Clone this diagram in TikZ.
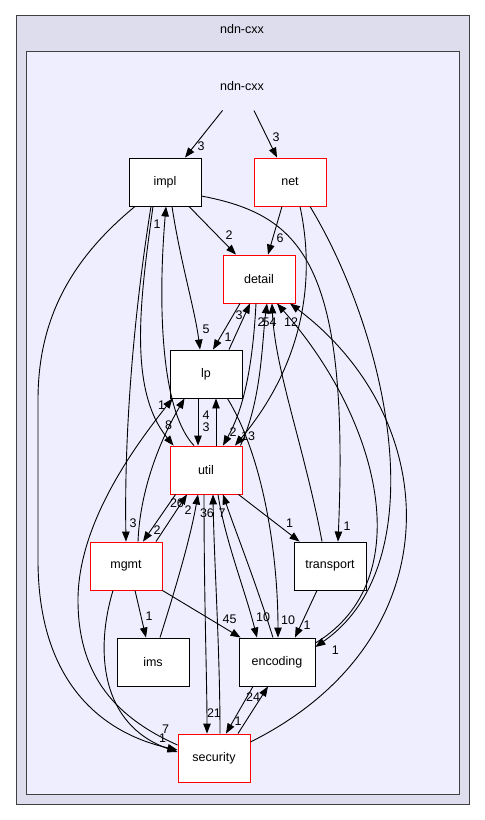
\documentclass[tikz,border=0pt]{standalone}
\usepackage{fontspec}
\setmainfont{Liberation Sans}
\usetikzlibrary{arrows.meta}

\definecolor{clusterOuter}{HTML}{DDDDEE}
\definecolor{clusterInner}{HTML}{EEEEFF}
\definecolor{clusterLine}{HTML}{404040}
\newcommand{\dirFont}{\fontsize{12.5}{14}\selectfont}

\tikzset{every picture/.style={line width=0.9pt},
        dirBox/.style={rectangle, draw=#1, fill=white, minimum width=72pt, minimum height=48pt, inner sep=0pt, font=\dirFont},
        dep/.style={-{Triangle[length=10pt,width=7.5pt]}},
        depLabel/.style 2 args={at end, shift={(#1,#2)}, inner sep=0pt, font=\dirFont}}

\begin{document}
\begin{tikzpicture}[x=1pt, y=-1pt]
\useasboundingbox (0,0) rectangle (485,820);

% draw clusters
\draw[clusterLine, fill=clusterOuter] (16,15) rectangle (469,804);
\node[font=\dirFont] (outerTitle) at (242,29) {ndn-cxx};
\draw[clusterLine, fill=clusterInner] (26,51) rectangle (459,794);
\node[minimum width=72pt, minimum height=48pt, font=\dirFont] (topDir) at (242,86) {ndn-cxx};

% draw directories
\foreach \dirName/\px/\py/\frameCol in {impl/165/182/black, net/290/182/red, detail/259/279/red,
    lp/206/374/black, util/206/470/red, mgmt/126/566/red, transport/330/566/black,
    ims/153/662/black, security/214/758/red} {
    \node[dirBox=\frameCol] (\dirName) at (\px,\py) {\dirName};
}
\node[dirBox=black, minimum width=76pt] (encoding) at (277,662) {encoding};

% draw dependencies
\draw[dep] (topDir) -- ([xshift=20]impl.north) node[depLabel={16}{-11}] {3};
\draw[dep] (topDir) -- ([xshift=-13]net.north) node[depLabel={-1}{-20}] {3};

\draw[dep] ([xshift=24]impl.south) -- ([xshift=-23]detail.north) node[depLabel={-7}{-19}] {2};
\draw[dep] ([xshift=7]impl.south) .. controls (180,260) and (195,310) .. ([xshift=-6]lp.north) node[depLabel={6}{-20}] {5};
\draw[dep] ([xshift=-12]impl.south) .. controls (140,300) and (128,390) .. ([xshift=4]util.north west) node[depLabel={-5}{-20}] {8};
\draw[dep] ([xshift=-14]impl.south) .. controls (136,300) and (124,420) .. (mgmt.north) node[depLabel={7}{-18}] {3};
\draw[dep] ([yshift=-14]impl.east) .. controls (300,215) and (350,260) .. ([xshift=8]transport.north) node[depLabel={9}{-15}] {1};
\draw[dep] ([xshift=-30]impl.south) .. controls (70,260) and (38,320) .. (38,400) -- (38,560)
    .. controls (38,690) and (110,735) .. ([yshift=8]security.west) node[depLabel={-12}{-21}] {7};

\draw[dep] ([xshift=-8]net.south) -- ([xshift=9]detail.north) node[depLabel={12}{-16}] {6};
\draw[dep] ([xshift=10]net.south) .. controls (320,300) and (290,380) .. ([xshift=29]util.north) node[depLabel={13}{-9}] {13};
\draw[dep] ([xshift=20]net.south) .. controls (385,330) and (440,560) .. ([yshift=15]encoding.east) node[depLabel={20}{3}] {1};

\draw[dep] ([xshift=-19]detail.south) -- ([xshift=7]lp.north) node[depLabel={15}{-12}] {1};
\draw[dep] ([xshift=-3]detail.south) .. controls (252,380) and (240,415) .. ([xshift=17]util.north) node[depLabel={10}{-13}] {2};

\draw[dep] ([xshift=23]lp.north) -- ([xshift=-9]detail.south) node[depLabel={-11}{12}] {3};
\draw[dep] ([xshift=-8]lp.south) -- ([xshift=-8]util.north) node[depLabel={8}{-18}] {3};
\draw[dep] ([xshift=-15]lp.south east) .. controls (265,460) and (278,560) .. ([xshift=1]encoding.north) node[depLabel={10}{-17}] {10};

\draw[dep] ([xshift=-12]util.north) .. controls (160,410) and (158,300) .. ([xshift=1]impl.south) node[depLabel={-9}{18}] {1};
\draw[dep] ([xshift=10]util.north) -- ([xshift=10]lp.south) node[depLabel={-10}{17}] {4};
\draw[dep] ([xshift=-2]util.north east) .. controls (262,400) and (262,340) .. ([xshift=8]detail.south) node[depLabel={-6}{19}] {2};
\draw[dep] ([xshift=-4]util.south east) -- ([xshift=6]transport.north west) node[depLabel={-10}{-18}] {1};
\draw[dep] ([xshift=6]util.south west) -- ([xshift=17]mgmt.north) node[depLabel={14}{-11}] {2};
\draw[dep] ([xshift=-2]util.south) .. controls (204,600) and (207,680) .. ([xshift=-7]security.north) node[depLabel={7}{-20}] {21};
\draw[dep] ([xshift=12]util.south) .. controls (225,540) and (245,590) .. ([xshift=-20]encoding.north) node[depLabel={6}{-20}] {10};

\draw[dep] ([xshift=-8]transport.north) .. controls (305,450) and (275,370) .. ([xshift=13]detail.south) node[depLabel={-6}{19}] {5};
\draw[dep] ([xshift=-13]transport.south) -- ([xshift=18]encoding.north) node[depLabel={12}{-12}] {1};

\draw[dep] ([xshift=30]mgmt.north) -- ([xshift=-19]util.south) node[depLabel={-10}{9}] {26};
\draw[dep] ([xshift=12]mgmt.north) .. controls (140,490) and (160,440) .. ([xshift=15]lp.south west);
\draw[dep] (mgmt.south east) -- ([xshift=2]encoding.north west) node[depLabel={-11}{-18}] {45};
\draw[dep] ([xshift=9]mgmt.south) -- ([xshift=-7]ims.north) node[depLabel={3}{-21}] {1};
\draw[dep] ([xshift=-13]mgmt.south) .. controls (95,650) and (100,725) .. ([yshift=6]security.west) node[depLabel={-15}{-14}] {1};

\draw[dep] ([xshift=7]ims.north) .. controls (175,590) and (190,540) .. ([xshift=-8]util.south) node[depLabel={-10}{16}] {2};

\draw[dep] ([yshift=19]encoding.east) .. controls (420,580) and (380,420) .. ([xshift=18]detail.south) node[depLabel={-4}{19}] {4};
\draw[dep] ([xshift=-4]encoding.north) .. controls (255,580) and (235,530) .. ([xshift=17]util.south) node[depLabel={-1}{19}] {7};
\draw[dep] ([xshift=-24]encoding.south) -- ([xshift=12]security.north) node[depLabel={12}{-12}] {1};

\draw[dep] ([xshift=6]security.north) .. controls (220,650) and (214,560) .. ([xshift=7]util.south) node[depLabel={-6}{19}] {36};
\draw[dep] ([xshift=24]security.north) -- ([xshift=-9]encoding.south) node[depLabel={-15}{11}] {24};
\draw[dep] ([yshift=16]security.east) .. controls (455,640) and (445,420) .. ([xshift=31]detail.south) node[depLabel={1}{19}] {12};
\draw[dep] ([yshift=13]security.west) .. controls (110,715) and (78,670) .. (78,600)
    .. controls (78,520) and (140,440) .. ([xshift=3]lp.south west) node[depLabel={-11}{7}] {1};

\end{tikzpicture}
\end{document}
